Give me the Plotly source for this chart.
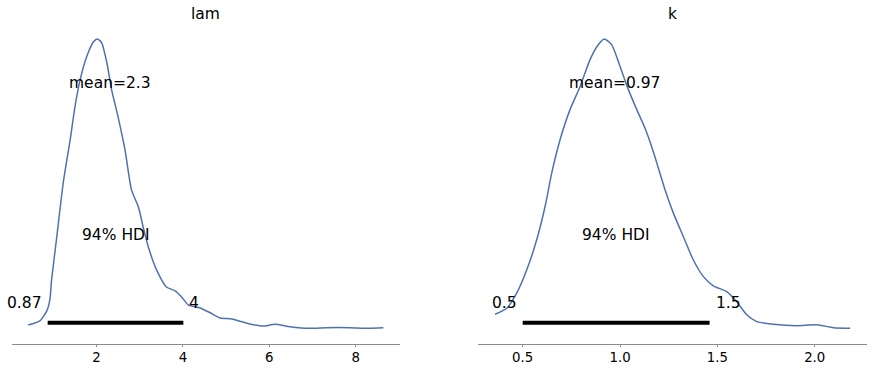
import plotly.graph_objects as go

# ---- data ----
var_names = ["lam", "k"]

lam_x = [0.42, 0.69, 0.85, 0.92, 0.96, 1.08, 1.23, 1.39, 1.50, 1.62, 1.77, 1.93, 2.02, 2.12,
         2.24, 2.35, 2.50, 2.66, 2.81, 2.97, 3.08, 3.20, 3.39, 3.62, 3.82, 3.97, 4.13, 4.40,
         4.63, 4.86, 5.13, 5.55, 5.86, 6.13, 6.48, 6.94, 7.33, 7.87, 8.25, 8.64]
lam_d = [0.0074, 0.016, 0.037, 0.060, 0.102, 0.192, 0.306, 0.396, 0.465, 0.522, 0.570, 0.602,
         0.608, 0.600, 0.558, 0.501, 0.444, 0.375, 0.291, 0.255, 0.213, 0.171, 0.123, 0.087,
         0.079, 0.066, 0.049, 0.043, 0.033, 0.022, 0.020, 0.0095, 0.005, 0.0088, 0.0038,
         0.0004, 0.0017, 0.0017, 0.0004, 0.0017]

k_x = [0.358, 0.418, 0.469, 0.521, 0.572, 0.615, 0.649, 0.692, 0.743, 0.795, 0.846, 0.889,
       0.919, 0.957, 1.000, 1.043, 1.086, 1.128, 1.171, 1.231, 1.274, 1.325, 1.376, 1.428,
       1.479, 1.548, 1.599, 1.651, 1.702, 1.787, 1.908, 2.010, 2.096, 2.182]
k_d = [0.071, 0.101, 0.176, 0.293, 0.443, 0.609, 0.776, 0.943, 1.093, 1.209, 1.343, 1.418,
       1.446, 1.418, 1.309, 1.193, 1.093, 1.001, 0.883, 0.693, 0.576, 0.459, 0.343, 0.259,
       0.213, 0.184, 0.134, 0.068, 0.034, 0.021, 0.014, 0.018, 0.004, 0.001]

means = [2.31, 0.97]
hdi_low = [0.87, 0.50]
hdi_high = [4.01, 1.46]
hdi_prob_label = "94% HDI"

lam_ticks = [2, 4, 6, 8]
k_ticks = [0.5, 1.0, 1.5, 2.0]
lam_ticktext = ["2", "4", "6", "8"]
k_ticktext = ["0.5", "1.0", "1.5", "2.0"]

# ---- figure ----
W, H = 874, 372
FONT = "DejaVu Sans"
LINE_COLOR = "#4c72b0"
TXT = 15.5

fig = go.Figure()

xs = [lam_x, k_x]
ds = [lam_d, k_d]
xdomains = [[11.7 / W, 400 / W], [478.3 / W, 867.3 / W]]
xranges = [[0.037, 9.025], [0.272, 2.270]]
ticks = [(lam_ticks, lam_ticktext), (k_ticks, k_ticktext)]
ydom = [(H - 343.5) / H, (H - 24.5) / H]

annotations = []
for i in range(2):
    xa = "x" if i == 0 else "x2"
    ya = "y" if i == 0 else "y2"
    P = max(ds[i])
    fig.add_trace(go.Scatter(x=xs[i], y=ds[i], mode="lines", xaxis=xa, yaxis=ya,
                             line=dict(color=LINE_COLOR, width=1.5, shape="spline", smoothing=0.6),
                             hoverinfo="skip", showlegend=False))
    fig.add_trace(go.Scatter(x=[hdi_low[i], hdi_high[i]], y=[0.02 * P, 0.02 * P], mode="lines",
                             xaxis=xa, yaxis=ya, line=dict(color="black", width=4),
                             hoverinfo="skip", showlegend=False))
    ax_layout = dict(domain=xdomains[i], range=xranges[i], showgrid=False, zeroline=False,
                     showline=True, linecolor="#8c8c8c", linewidth=1,
                     tickvals=ticks[i][0], ticktext=ticks[i][1], ticks="outside", ticklen=2,
                     tickcolor="#8c8c8c", tickfont=dict(family=FONT, size=13.3, color="black"))
    ay_layout = dict(domain=ydom, range=[-0.052 * P, 1.05 * P], visible=False)
    if i == 0:
        fig.update_layout(xaxis=dict(ax_layout, anchor="y"), yaxis=dict(ay_layout, anchor="x"))
    else:
        fig.update_layout(xaxis2=dict(ax_layout, anchor="y2"), yaxis2=dict(ay_layout, anchor="x2"))

    f = dict(family=FONT, size=TXT, color="black")
    annotations += [
        dict(x=means[i], y=0.848 * P, xref=xa, yref=ya, text=f"mean={means[i]:.2g}",
             showarrow=False, xanchor="center", yanchor="middle", font=f),
        dict(x=(hdi_low[i] + hdi_high[i]) / 2, y=0.323 * P, xref=xa, yref=ya,
             text=hdi_prob_label, showarrow=False, xanchor="center", yanchor="middle", font=f),
        dict(x=hdi_low[i], y=0.088 * P, xref=xa, yref=ya, text=f"{hdi_low[i]:.2g}",
             showarrow=False, xanchor="right", yanchor="middle", xshift=-4, font=f),
        dict(x=hdi_high[i], y=0.088 * P, xref=xa, yref=ya, text=f"{hdi_high[i]:.2g}",
             showarrow=False, xanchor="left", yanchor="middle", xshift=4, font=f),
        dict(x=sum(xdomains[i]) / 2, y=(H - 14.5) / H, xref="paper", yref="paper",
             text=var_names[i], showarrow=False, xanchor="center", yanchor="middle", font=f),
    ]

fig.update_layout(width=W, height=H, margin=dict(l=0, r=0, t=0, b=0),
                  paper_bgcolor="white", plot_bgcolor="white",
                  annotations=annotations, showlegend=False)

fig.write_html("out.html", config={"displayModeBar": False, "staticPlot": True},
               post_script="document.body.style.margin='0';document.body.style.overflow='hidden';")
